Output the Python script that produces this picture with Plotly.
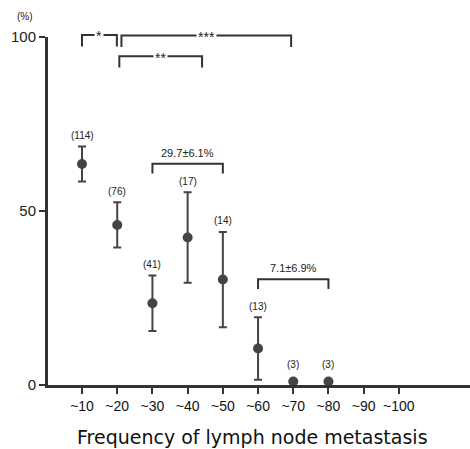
import plotly.graph_objects as go

categories = ["~10", "~20", "~30", "~40", "~50", "~60", "~70", "~80", "~90", "~100"]
rate = [63.5, 46.0, 23.5, 42.4, 30.3, 10.5, 1.0, 1.0]
err = [5.0, 6.5, 8.0, 13.0, 13.7, 9.0, 0.0, 0.0]
n_cases = ["(114)", "(76)", "(41)", "(17)", "(14)", "(13)", "(3)", "(3)"]

# group summaries: (start cat, end cat, label, level)
groups = [(3, 5, "29.7±6.1%", 63.6), (6, 8, "7.1±6.9%", 30.4)]
# significance brackets: (x0, x1, label, level)
sig = [(1.0, 1.99, "*", 100.6), (2.12, 6.94, "***", 100.4), (2.06, 4.41, "**", 94.5)]

xpos = list(range(1, len(categories) + 1))
dark = "#333333"

fig = go.Figure()
fig.add_trace(go.Scatter(
    x=xpos[:len(rate)], y=rate, mode="markers",
    marker=dict(size=10, color="#444444"),
    error_y=dict(type="data", array=err, visible=True, color="#444444", thickness=2, width=4),
    cliponaxis=False, showlegend=False))

for i, (r, e, lab) in enumerate(zip(rate, err, n_cases)):
    fig.add_annotation(x=xpos[i], y=r + max(e, 1.7) + 3.2, text=lab, showarrow=False,
                       font=dict(size=10, color="#222", family="Liberation Sans"))

shapes = []
for a, b, lab, lvl in groups:
    shapes.append(dict(type="path", xref="x", yref="y",
                       path=f"M {a},{lvl-2.8} L {a},{lvl} L {b},{lvl} L {b},{lvl-2.8}",
                       line=dict(color=dark, width=2)))
    fig.add_annotation(x=(a + b) / 2, y=lvl + 3.1, text=lab, showarrow=False,
                       font=dict(size=11, color="#222", family="Liberation Sans"))
for a, b, lab, lvl in sig:
    shapes.append(dict(type="path", xref="x", yref="paper",
                       path=f"M {a},{(lvl-3.3)/100} L {a},{lvl/100} L {b},{lvl/100} L {b},{(lvl-3.3)/100}",
                       line=dict(color=dark, width=2)))
    fig.add_annotation(x=(a + b) / 2, y=lvl / 100 - 0.004, xref="x", yref="paper", text=lab,
                       showarrow=False, bgcolor="white", borderpad=1, yanchor="middle",
                       font=dict(size=14, color="#222", family="Liberation Sans"))
fig.update_layout(shapes=shapes)

fig.add_annotation(x=(252 - 48) / 422, y=-0.149, xref="paper", yref="paper",
                   text="Frequency of lymph node metastasis", showarrow=False,
                   font=dict(size=19, color="#111", family="DejaVu Sans"), yanchor="middle")
fig.add_annotation(x=-0.0545, y=1.058, xref="paper", yref="paper", text="(%)", showarrow=False,
                   yanchor="middle", xanchor="center",
                   font=dict(size=10, color="#222", family="Liberation Sans"))

fig.update_xaxes(range=[0.034, 12.02], tickmode="array", tickvals=xpos, ticktext=categories,
                 showline=True, linewidth=3, linecolor=dark, ticks="outside", ticklen=6,
                 tickwidth=2, tickcolor=dark, showgrid=False, zeroline=False,
                 tickfont=dict(size=14, color="#111", family="Liberation Sans Narrow, Liberation Sans"))
fig.update_yaxes(range=[0, 100], tickvals=[0, 50, 100], showline=True, linewidth=3,
                 linecolor=dark, ticks="outside", ticklen=6, tickwidth=2, tickcolor=dark,
                 showgrid=False, zeroline=False,
                 tickfont=dict(size=15, color="#222", family="Liberation Sans Narrow, Liberation Sans"))
fig.update_layout(width=470, height=449, margin=dict(l=48, r=0, t=37, b=64),
                  plot_bgcolor="white", paper_bgcolor="white")
fig.write_html("out.html")
